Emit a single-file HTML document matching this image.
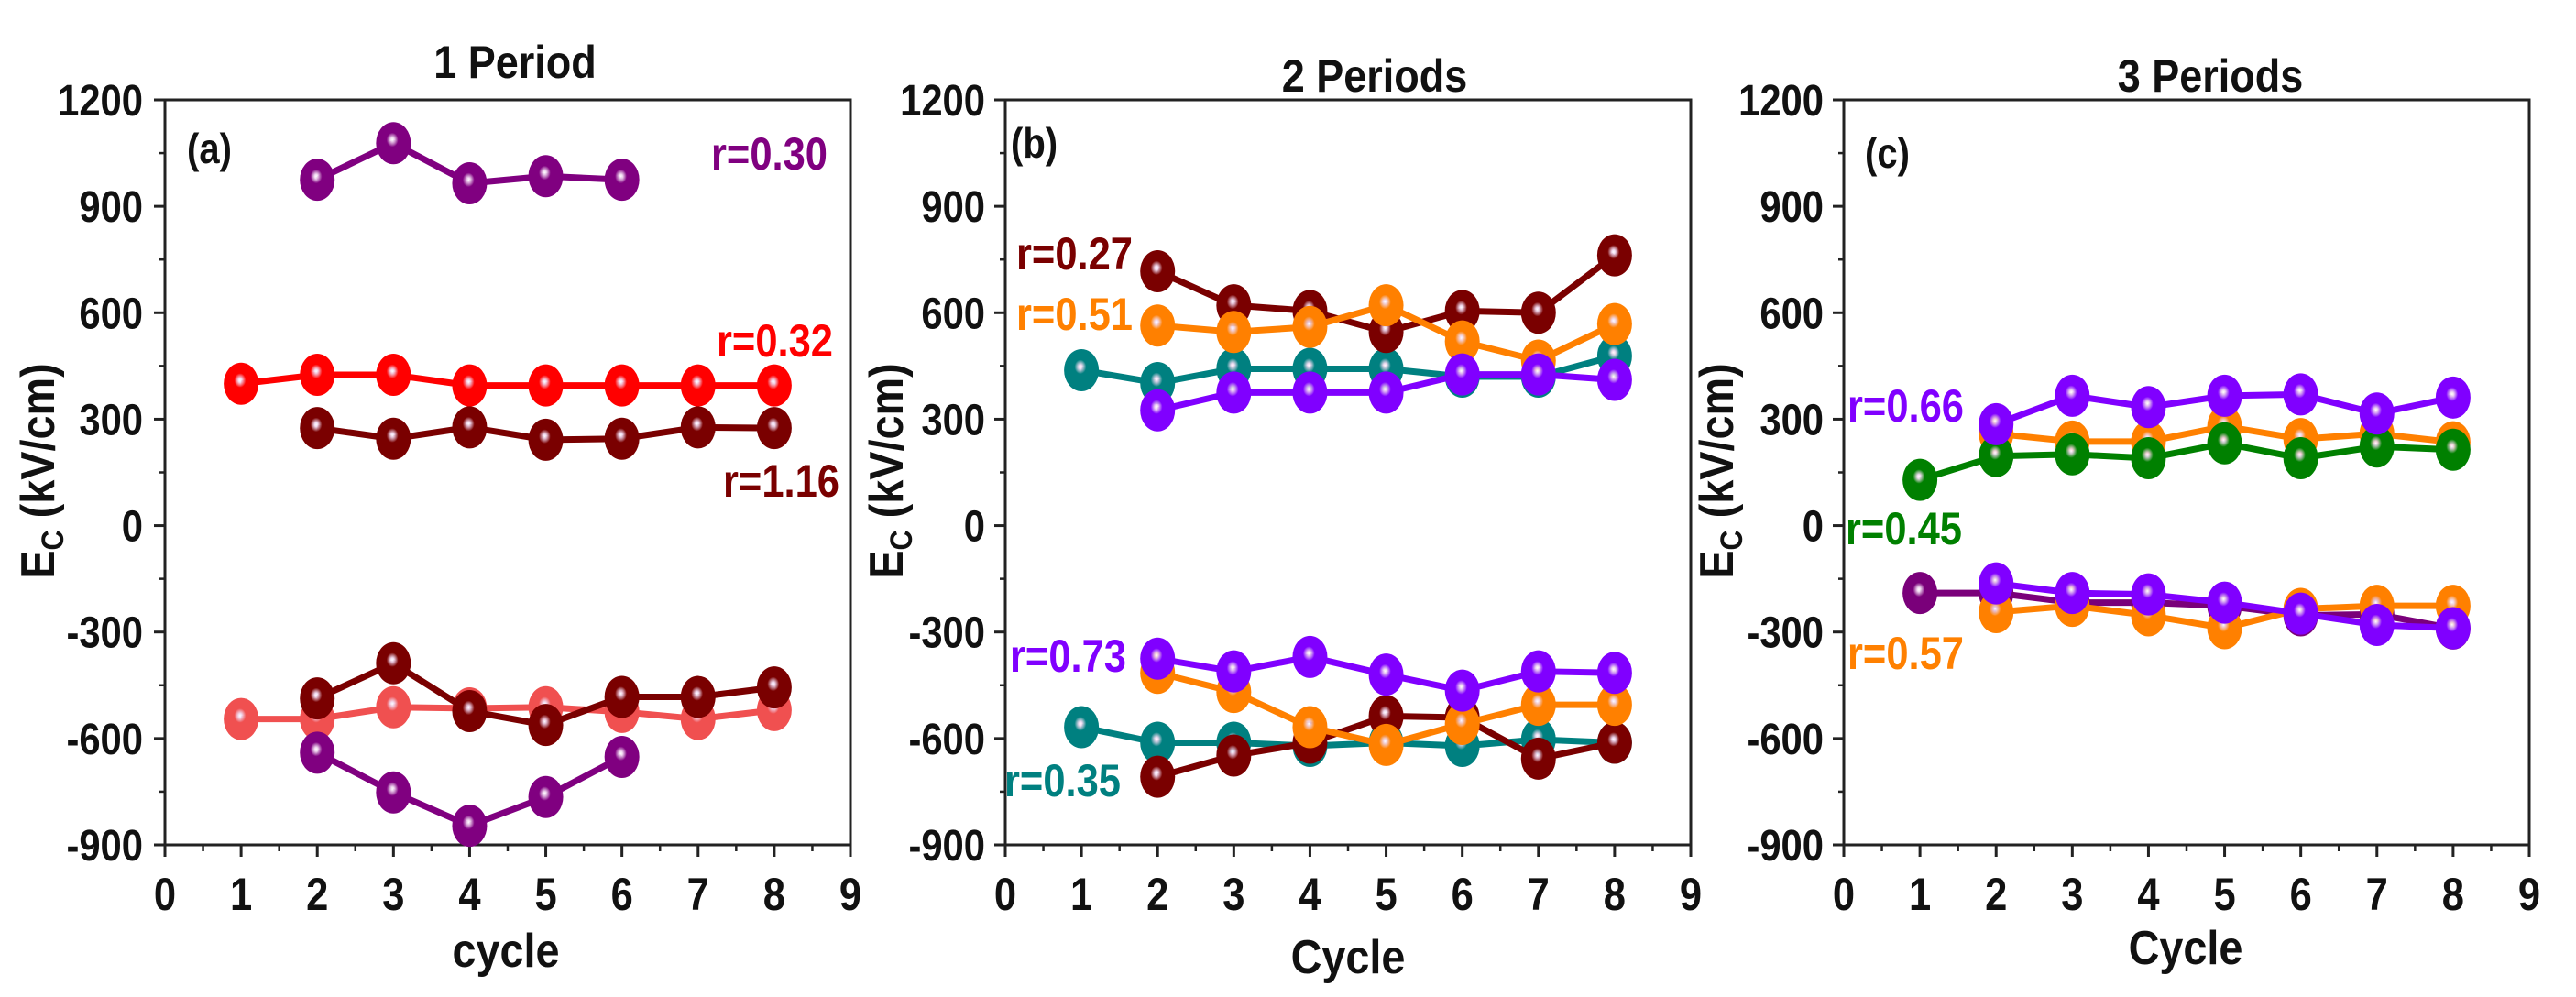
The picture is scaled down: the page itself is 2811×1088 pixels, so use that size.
<!DOCTYPE html>
<html><head><meta charset="utf-8"><style>
html,body{margin:0;padding:0;background:#fff;}
svg{display:block;}
text{font-family:"Liberation Sans",Arial,sans-serif;font-weight:bold;}
</style></head><body>
<svg id="fig" width="2811" height="1088" viewBox="0 0 2811 1088" xmlns="http://www.w3.org/2000/svg">
<defs></defs>
</svg>
<script>
// ---- data ----
const xTicks = [0,1,2,3,4,5,6,7,8,9];
const yTicks = [-900,-600,-300,0,300,600,900,1200];
const panelTitles = ["1 Period","2 Periods","3 Periods"];
const panelTags = ["(a)","(b)","(c)"];
const xTitles = ["cycle","Cycle","Cycle"];

// panel a
const aPurpleTopX = [2,3,4,5,6];
const aPurpleTop = [975,1078,965,985,975];
const aPurpleBotX = [2,3,4,5,6];
const aPurpleBot = [-640,-752,-846,-765,-652];
const aRedTopX = [1,2,3,4,5,6,7,8];
const aRedTop = [400,425,425,395,395,395,395,395];
const aDarkTopX = [2,3,4,5,6,7,8];
const aDarkTop = [275,245,277,242,245,277,275];
const aDarkBotX = [2,3,4,5,6,7,8];
const aDarkBot = [-487,-388,-523,-562,-483,-483,-456];
const aSalmonBotX = [1,2,3,4,5,6,7,8];
const aSalmonBot = [-545,-545,-512,-515,-512,-525,-545,-520];

// panel b
const bDarkTopX = [2,3,4,5,6,7,8];
const bDarkTop = [717,621,605,546,605,600,762];
const bOrangeTopX = [2,3,4,5,6,7,8];
const bOrangeTop = [564,546,560,621,519,465,568];
const bTealTopX = [1,2,3,4,5,6,7,8];
const bTealTop = [438,402,442,442,442,420,420,478];
const bVioletTopX = [2,3,4,5,6,7,8];
const bVioletTop = [325,375,375,375,426,426,411];
const bVioletBotX = [2,3,4,5,6,7,8];
const bVioletBot = [-375,-411,-370,-420,-465,-411,-415];
const bOrangeBotX = [2,3,4,5,6,7,8];
const bOrangeBot = [-415,-469,-568,-618,-559,-505,-505];
const bTealBotX = [1,2,3,4,5,6,7,8];
const bTealBot = [-568,-612,-612,-621,-612,-621,-603,-612];
const bDarkBotX = [2,3,4,5,6,7,8];
const bDarkBot = [-708,-648,-612,-537,-541,-657,-612];

// panel c
const cOrangeTopX = [2,3,4,5,6,7,8];
const cOrangeTop = [259,237,237,280,244,259,235];
const cGreenTopX = [1,2,3,4,5,6,7,8];
const cGreenTop = [129,196,201,190,232,190,223,214];
const cVioletTopX = [2,3,4,5,6,7,8];
const cVioletTop = [286,366,334,366,370,316,361];
const cPlumBotX = [1,2,3,4,5,6,7,8];
const cPlumBot = [-190,-190,-217,-217,-226,-253,-250,-290];
const cOrangeBotX = [2,3,4,5,6,7,8];
const cOrangeBot = [-244,-226,-253,-289,-235,-226,-226];
const cVioletBotX = [2,3,4,5,6,7,8];
const cVioletBot = [-163,-190,-194,-217,-248,-280,-289];

const NS = "http://www.w3.org/2000/svg";
const svg = document.getElementById('fig');
const defs = svg.querySelector('defs');

function el(tag, attrs, parent){
  const e = document.createElementNS(NS, tag);
  for (const k in attrs) e.setAttribute(k, attrs[k]);
  (parent||svg).appendChild(e);
  return e;
}

const colors = {purple:"#800080", red:"#ff0000", dark:"#7a0000", salmon:"#f05050", orange:"#ff8000", teal:"#008080", violet:"#8000ff", green:"#008000", plum:"#7a007a"};
for (const c in colors){
  const g = el('radialGradient',{id:'g-'+c, cx:'0.47', cy:'0.42', r:'0.6', fx:'0.47', fy:'0.42'}, defs);
  el('stop',{offset:'0', 'stop-color':'#ffffff'}, g);
  el('stop',{offset:'0.08', 'stop-color':'#f0d8f0', 'stop-opacity':'0.9'}, g);
  el('stop',{offset:'0.28', 'stop-color':colors[c]}, g);
  el('stop',{offset:'1', 'stop-color':colors[c]}, g);
}

const panels = [
  {L:180, R:928, T:109, B:922, tickRight:156, ylabX:41, titleX:562, titleY:67, tagX:204, tagY:178, xtitleX:552, xtitleY:1055},
  {L:1097, R:1845, T:109, B:922, tickRight:1075, ylabX:967, titleX:1500, titleY:82, tagX:1103, tagY:172, xtitleX:1471, xtitleY:1062},
  {L:2012, R:2760, T:109, B:922, tickRight:1990, ylabX:1873, titleX:2412, titleY:82, tagX:2035, tagY:183, xtitleX:2385, xtitleY:1052}
];

function txt(s, x, y, size, fill, anchor, sx, name, parent){
  const t = el('text',{x:0, y:0, 'font-size':size, fill:fill, 'text-anchor':anchor||'middle',
    transform:'translate('+x+','+y+') scale('+(sx||0.87)+',1)'}, parent);
  t.textContent = s;
  
  
  return t;
}

panels.forEach((p, i) => {
  const sx = v => p.L + v/9*(p.R-p.L);
  const sy = v => p.B - (v+900)/2100*(p.B-p.T);
  p.sx = sx; p.sy = sy;
  const g = el('g',{});
  
  
  p.g = g;
  const frame = el('rect',{x:p.L, y:p.T, width:p.R-p.L, height:p.B-p.T, fill:'none', stroke:'#222', 'stroke-width':3}, g);
  
  
  xTicks.forEach(v => {
    const tk = el('line',{x1:sx(v), x2:sx(v), y1:p.B, y2:p.B+13, stroke:'#222', 'stroke-width':3}, g);
    
    
    if (v < 9){
      const mn = el('line',{x1:sx(v+0.5), x2:sx(v+0.5), y1:p.B, y2:p.B+7, stroke:'#222', 'stroke-width':2.5}, g);
      
      
    }
    txt(String(v), sx(v), 993, 50, '#111', 'middle', 0.87, 'x-tick-label', g);
  });
  yTicks.forEach(v => {
    const tk = el('line',{x1:p.L-12, x2:p.L, y1:sy(v), y2:sy(v), stroke:'#222', 'stroke-width':3}, g);
    
    
    if (v < 1200){
      const mn = el('line',{x1:p.L-6, x2:p.L, y1:sy(v+150), y2:sy(v+150), stroke:'#222', 'stroke-width':2.5}, g);
      
      
    }
    txt(String(v), p.tickRight, sy(v)+17, 48, '#111', 'end', 0.87, 'y-tick-label', g);
  });
  txt(panelTitles[i], p.titleX, p.titleY+18, 50, '#111', 'middle', 0.9, 'panel-title', g);
  txt(panelTags[i], p.tagX, p.tagY, 46, '#111', 'start', 0.87, 'panel-tag', g);
  txt(xTitles[i], p.xtitleX, p.xtitleY, 52, '#111', 'middle', 0.9, 'x-axis-title', g);
  const yt = el('text',{x:0, y:0, 'font-size':52, fill:'#111', 'text-anchor':'middle',
    transform:'translate('+(p.ylabX+18)+',514) rotate(-90) scale(0.9,1)'}, g);
  
  
  const t1 = document.createElementNS(NS,'tspan'); t1.textContent = 'E'; yt.appendChild(t1);
  const t2 = document.createElementNS(NS,'tspan'); t2.setAttribute('font-size','34'); t2.setAttribute('dy','10'); t2.textContent = 'C'; yt.appendChild(t2);
  const t3 = document.createElementNS(NS,'tspan'); t3.setAttribute('dy','-10'); t3.textContent = ' (kV/cm)'; yt.appendChild(t3);
});

function series(pi, xs, ys, color, name){
  const p = panels[pi];
  const g = el('g',{}, p.g);
  
  
  const pts = xs.map((x,k) => p.sx(x)+','+p.sy(ys[k])).join(' ');
  const pl = el('polyline',{points:pts, fill:'none', stroke:colors[color], 'stroke-width':7, 'stroke-linejoin':'round'}, g);
  
  
  xs.forEach((x,k) => {
    const m = el('ellipse',{cx:p.sx(x), cy:p.sy(ys[k]), rx:19, ry:23, fill:'url(#g-'+color+')'}, g);
    
    
  });
}

series(0, aSalmonBotX, aSalmonBot, 'salmon', 'series-a-r032-negative');
series(0, aRedTopX, aRedTop, 'red', 'series-a-r032-positive');
series(0, aDarkTopX, aDarkTop, 'dark', 'series-a-r116-positive');
series(0, aDarkBotX, aDarkBot, 'dark', 'series-a-r116-negative');
series(0, aPurpleTopX, aPurpleTop, 'purple', 'series-a-r030-positive');
series(0, aPurpleBotX, aPurpleBot, 'purple', 'series-a-r030-negative');

series(1, bTealTopX, bTealTop, 'teal', 'series-b-r035-positive');
series(1, bTealBotX, bTealBot, 'teal', 'series-b-r035-negative');
series(1, bDarkTopX, bDarkTop, 'dark', 'series-b-r027-positive');
series(1, bDarkBotX, bDarkBot, 'dark', 'series-b-r027-negative');
series(1, bOrangeTopX, bOrangeTop, 'orange', 'series-b-r051-positive');
series(1, bOrangeBotX, bOrangeBot, 'orange', 'series-b-r051-negative');
series(1, bVioletTopX, bVioletTop, 'violet', 'series-b-r073-positive');
series(1, bVioletBotX, bVioletBot, 'violet', 'series-b-r073-negative');

series(2, cOrangeTopX, cOrangeTop, 'orange', 'series-c-r057-positive');
series(2, cGreenTopX, cGreenTop, 'green', 'series-c-r045-positive');
series(2, cPlumBotX, cPlumBot, 'plum', 'series-c-r045-negative');
series(2, cOrangeBotX, cOrangeBot, 'orange', 'series-c-r057-negative');
series(2, cVioletTopX, cVioletTop, 'violet', 'series-c-r066-positive');
series(2, cVioletBotX, cVioletBot, 'violet', 'series-c-r066-negative');

txt('r=0.30', 903, 185, 50, colors.purple, 'end', 0.87, 'label-r030');
txt('r=0.32', 909, 389, 50, colors.red, 'end', 0.87, 'label-r032');
txt('r=1.16', 916, 542, 50, colors.dark, 'end', 0.87, 'label-r116');
txt('r=0.27', 1109, 294, 50, colors.dark, 'start', 0.87, 'label-r027');
txt('r=0.51', 1109, 360, 50, colors.orange, 'start', 0.87, 'label-r051');
txt('r=0.73', 1102, 733, 50, colors.violet, 'start', 0.87, 'label-r073');
txt('r=0.35', 1096, 869, 50, colors.teal, 'start', 0.87, 'label-r035');
txt('r=0.66', 2016, 460, 50, colors.violet, 'start', 0.87, 'label-r066');
txt('r=0.45', 2014, 594, 50, colors.green, 'start', 0.87, 'label-r045');
txt('r=0.57', 2016, 730, 50, colors.orange, 'start', 0.87, 'label-r057');
</script>
</body></html>
